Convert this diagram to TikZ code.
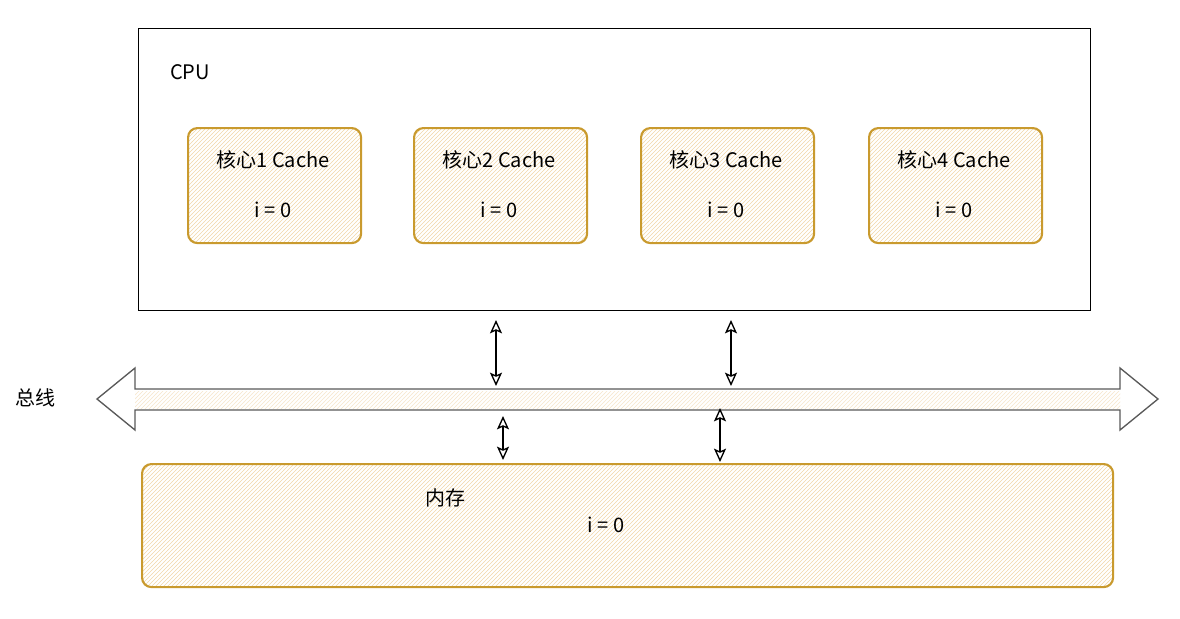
\documentclass[tikz,border=0pt]{standalone}
\usepackage{fontspec}
\setmainfont{Noto Sans CJK SC}
\usetikzlibrary{patterns,arrows.meta}
\definecolor{gold}{HTML}{C99A2E}
\definecolor{hatch}{HTML}{F0D6A8}
\tikzset{
  box/.style={draw=gold,line width=1.6pt,rounded corners=7pt,pattern=north east lines,pattern color=hatch},
  lbl/.style={font=\fontsize{15}{18}\selectfont,inner sep=0pt},
  biarr/.style={{Stealth[open,length=10pt,width=9pt,inset=2pt]}-{Stealth[open,length=10pt,width=9pt,inset=2pt]},line width=1pt}
}
\begin{document}
\begin{tikzpicture}[x=0.75pt,y=-0.75pt]
\useasboundingbox (0,0) rectangle (1180,618);
\node[draw,line width=1pt,minimum width=952*0.75pt,minimum height=282*0.75pt,anchor=north west,inner sep=0pt] (cpu) at (138,28) {};
\node[lbl] (cpul) at (190,72) {CPU};
\foreach \n/\x in {1/187,2/413,3/640,4/868}{
  \node[box,anchor=north west,minimum width=173*0.75pt,minimum height=115*0.75pt,inner sep=0pt] (c\n) at (\x,127) {};
  \node[lbl] (t\n) at (\x+86,160) {核心\n{} Cache};
  \node[lbl] (v\n) at (\x+86,210) {i = 0};
}
\draw[line width=1pt,draw=black!65,fill=white] (97,399) -- (135,368) -- (135,389) -- (1120,389) -- (1120,368) -- (1158,399) -- (1120,430) -- (1120,410) -- (135,410) -- (135,430) -- cycle;
\path[pattern=north east lines,pattern color=hatch!60] (135,391) rectangle (1120,408);
\node[lbl] (bus) at (35,398) {总线};
\coordinate (a1) at (496,320); \coordinate (b1) at (496,386);
\coordinate (a2) at (731,320); \coordinate (b2) at (731,386);
\coordinate (a3) at (503,416); \coordinate (b3) at (503,460);
\coordinate (a4) at (720,408); \coordinate (b4) at (720,462);
\foreach \i in {1,2,3,4}{\draw[biarr] (a\i) -- (b\i);}
\node[box,anchor=north west,minimum width=971*0.75pt,minimum height=123*0.75pt,inner sep=0pt] (mem) at (141,463) {};
\node[lbl] (meml) at (445,498) {内存};
\node[lbl] (memv) at (606,525) {i = 0};
\end{tikzpicture}
\end{document}
